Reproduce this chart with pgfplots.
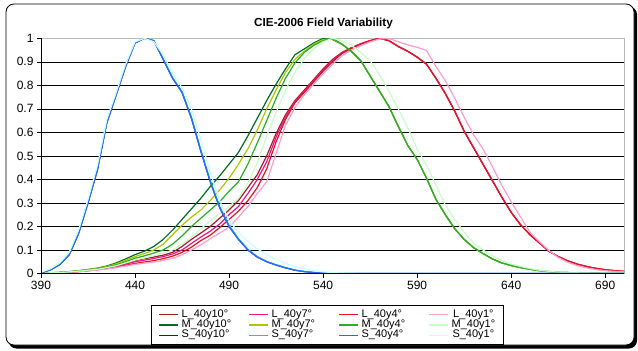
\documentclass[border=0pt]{standalone}
\usepackage{fontspec}
\setmainfont{Liberation Sans}
\usepackage{pgfplots}
\pgfplotsset{compat=1.18}
\usepackage{pgfplotstable}

\definecolor{cL10}{RGB}{160,30,40}
\definecolor{cL7}{RGB}{240,20,130}
\definecolor{cL4}{RGB}{230,20,30}
\definecolor{cL1}{RGB}{255,155,205}
\definecolor{cM10}{RGB}{0,110,40}
\definecolor{cM7}{RGB}{170,200,0}
\definecolor{cM4}{RGB}{40,175,40}
\definecolor{cM1}{RGB}{200,255,200}
\definecolor{cS10}{RGB}{0,40,100}
\definecolor{cS7}{RGB}{0,200,255}
\definecolor{cS4}{RGB}{50,100,255}
\definecolor{cS1}{RGB}{200,255,255}

\pgfplotstableread{
lam L10 L7 L4 L1 M10 M7 M4 M1 S10 S7 S4 S1
390 0.001 0.001 0.001 0.001 0.002 0.002 0.001 0.001 0.003 0.004 0.003 0.005
395 0.002 0.002 0.002 0.002 0.003 0.003 0.003 0.003 0.015 0.017 0.015 0.020
400 0.004 0.004 0.003 0.003 0.005 0.005 0.004 0.004 0.038 0.040 0.038 0.045
405 0.006 0.006 0.005 0.005 0.008 0.008 0.007 0.007 0.080 0.083 0.080 0.090
410 0.009 0.009 0.008 0.008 0.012 0.012 0.011 0.010 0.170 0.175 0.170 0.185
415 0.013 0.012 0.012 0.011 0.017 0.016 0.015 0.014 0.300 0.305 0.300 0.315
420 0.018 0.017 0.016 0.015 0.023 0.022 0.020 0.018 0.440 0.450 0.440 0.460
425 0.024 0.022 0.021 0.019 0.032 0.030 0.027 0.025 0.640 0.645 0.640 0.655
430 0.033 0.030 0.027 0.025 0.045 0.041 0.037 0.033 0.760 0.765 0.760 0.770
435 0.043 0.040 0.035 0.032 0.062 0.056 0.050 0.045 0.880 0.885 0.880 0.890
440 0.055 0.050 0.043 0.039 0.080 0.072 0.065 0.057 0.980 0.982 0.980 0.985
445 0.063 0.057 0.049 0.044 0.095 0.085 0.075 0.066 1.000 1.000 1.000 1.000
450 0.070 0.064 0.055 0.049 0.115 0.100 0.087 0.076 0.990 0.990 0.990 0.985
455 0.078 0.072 0.063 0.056 0.145 0.125 0.100 0.087 0.910 0.912 0.910 0.930
460 0.090 0.083 0.074 0.064 0.185 0.165 0.125 0.100 0.830 0.832 0.830 0.850
465 0.115 0.100 0.090 0.080 0.230 0.205 0.160 0.125 0.770 0.772 0.770 0.790
470 0.145 0.128 0.112 0.100 0.275 0.240 0.200 0.155 0.660 0.665 0.660 0.700
475 0.172 0.155 0.140 0.122 0.320 0.270 0.235 0.190 0.520 0.525 0.520 0.570
480 0.200 0.180 0.163 0.148 0.370 0.310 0.270 0.225 0.390 0.395 0.390 0.430
485 0.235 0.210 0.195 0.172 0.415 0.355 0.305 0.255 0.280 0.285 0.280 0.310
490 0.270 0.250 0.230 0.197 0.465 0.405 0.350 0.285 0.200 0.205 0.200 0.225
495 0.310 0.285 0.265 0.240 0.515 0.465 0.390 0.320 0.145 0.148 0.145 0.175
500 0.365 0.340 0.310 0.285 0.585 0.530 0.465 0.385 0.100 0.103 0.100 0.135
505 0.420 0.400 0.365 0.340 0.660 0.610 0.555 0.470 0.070 0.072 0.070 0.105
510 0.500 0.475 0.445 0.390 0.735 0.700 0.650 0.585 0.050 0.051 0.050 0.080
515 0.595 0.580 0.560 0.510 0.805 0.780 0.745 0.685 0.036 0.037 0.036 0.060
520 0.675 0.665 0.655 0.630 0.870 0.855 0.830 0.780 0.024 0.025 0.024 0.043
525 0.735 0.730 0.725 0.705 0.930 0.910 0.895 0.855 0.014 0.015 0.014 0.030
530 0.780 0.775 0.770 0.760 0.955 0.945 0.940 0.915 0.008 0.009 0.008 0.020
535 0.825 0.820 0.815 0.805 0.980 0.975 0.970 0.955 0.004 0.005 0.004 0.012
540 0.870 0.865 0.860 0.850 1.000 0.995 0.990 0.985 0.002 0.002 0.002 0.007
545 0.910 0.905 0.900 0.890 0.995 0.997 1.000 1.000 0.001 0.001 0.001 0.004
550 0.940 0.937 0.935 0.925 0.975 0.975 0.975 0.990 0.000 0.000 0.000 0.002
555 0.960 0.958 0.957 0.950 0.945 0.945 0.945 0.970 0.000 0.000 0.000 0.001
560 0.977 0.976 0.975 0.968 0.905 0.905 0.905 0.940 0.000 0.000 0.000 0.000
565 0.990 0.990 0.990 0.985 0.840 0.840 0.840 0.905 0.000 0.000 0.000 0.000
570 1.000 1.000 1.000 0.997 0.775 0.775 0.775 0.845 0.000 0.000 0.000 0.000
575 0.990 0.990 0.990 1.000 0.710 0.710 0.710 0.775 0.000 0.000 0.000 0.000
580 0.965 0.965 0.965 0.985 0.625 0.625 0.625 0.700 0.000 0.000 0.000 0.000
585 0.945 0.945 0.945 0.972 0.545 0.545 0.545 0.620 0.000 0.000 0.000 0.000
590 0.920 0.920 0.920 0.962 0.485 0.485 0.485 0.530 0.000 0.000 0.000 0.000
595 0.890 0.890 0.890 0.948 0.405 0.405 0.405 0.460 0.000 0.000 0.000 0.000
600 0.830 0.830 0.830 0.880 0.315 0.315 0.315 0.375 0.000 0.000 0.000 0.000
605 0.765 0.765 0.765 0.820 0.250 0.250 0.250 0.290 0.000 0.000 0.000 0.000
610 0.690 0.690 0.690 0.745 0.190 0.190 0.190 0.230 0.000 0.000 0.000 0.000
615 0.605 0.605 0.605 0.665 0.145 0.145 0.145 0.175 0.000 0.000 0.000 0.000
620 0.535 0.535 0.535 0.590 0.110 0.110 0.110 0.130 0.000 0.000 0.000 0.000
625 0.465 0.465 0.465 0.530 0.085 0.085 0.085 0.100 0.000 0.000 0.000 0.000
630 0.395 0.395 0.395 0.455 0.062 0.062 0.062 0.075 0.000 0.000 0.000 0.000
635 0.325 0.325 0.325 0.375 0.045 0.045 0.045 0.055 0.000 0.000 0.000 0.000
640 0.260 0.260 0.260 0.305 0.034 0.034 0.034 0.040 0.000 0.000 0.000 0.000
645 0.207 0.207 0.207 0.240 0.025 0.025 0.025 0.030 0.000 0.000 0.000 0.000
650 0.165 0.165 0.165 0.175 0.018 0.018 0.018 0.021 0.000 0.000 0.000 0.000
655 0.130 0.130 0.130 0.135 0.012 0.012 0.012 0.014 0.000 0.000 0.000 0.000
660 0.095 0.095 0.095 0.098 0.008 0.008 0.008 0.009 0.000 0.000 0.000 0.000
665 0.072 0.072 0.072 0.068 0.005 0.005 0.005 0.006 0.000 0.000 0.000 0.000
670 0.054 0.054 0.054 0.048 0.004 0.004 0.004 0.004 0.000 0.000 0.000 0.000
675 0.040 0.040 0.040 0.034 0.002 0.002 0.002 0.003 0.000 0.000 0.000 0.000
680 0.030 0.030 0.030 0.024 0.001 0.001 0.001 0.002 0.000 0.000 0.000 0.000
685 0.022 0.022 0.022 0.017 0.001 0.001 0.001 0.001 0.000 0.000 0.000 0.000
690 0.016 0.016 0.016 0.012 0.000 0.000 0.000 0.000 0.000 0.000 0.000 0.000
695 0.012 0.012 0.012 0.009 0.000 0.000 0.000 0.000 0.000 0.000 0.000 0.000
700 0.009 0.009 0.009 0.007 0.000 0.000 0.000 0.000 0.000 0.000 0.000 0.000
}\cie

\begin{document}
\begin{tikzpicture}[x=1bp,y=1bp]
\useasboundingbox (0,0) rectangle (638,350);
\fill[black, rounded corners=8bp] (8.5,1.5) rectangle (637,343.5);
\draw[fill=white, rounded corners=8bp, line width=0.8bp] (6,5) rectangle (634,346);
\node[anchor=base, font=\bfseries\fontsize{11.7bp}{13bp}\selectfont] at (323.5,324) {CIE-2006 Field Variability};
\begin{axis}[
  at={(41bp,76.5bp)}, anchor=south west,
  scale only axis, width=583bp, height=235.2bp,
  xmin=390, xmax=700, ymin=0, ymax=1,
  xtick={390,440,490,540,590,640,690},
  ytick={0,0.1,0.2,0.3,0.4,0.5,0.6,0.7,0.8,0.9,1},
  yticklabels={0,0.1,0.2,0.3,0.4,0.5,0.6,0.7,0.8,0.9,1},
  /pgf/number format/assume math mode=true,
  ticklabel style={font=\fontsize{12bp}{14bp}\selectfont},
  xtick pos=left, ytick pos=left,
  tick align=outside, major tick length=4bp,
  tick style={black, line width=0.6bp},
  axis line style={draw=gray!55, line width=1bp},
  ymajorgrids, grid style={black, line width=0.6bp},
  after end axis/.code={\draw[black, line width=0.8bp] (rel axis cs:0,1) -- (rel axis cs:0,0) -- (rel axis cs:1,0);},
  legend columns=4,
  legend image code/.code={\draw[#1, line width=1.5bp] (0bp,0bp) -- (19bp,0bp);},
  legend style={at={(0.1887,-0.1339)}, anchor=north west, draw=black, line width=0.6bp,
    inner xsep=7bp, inner ysep=4bp,
    font=\fontsize{11bp}{12bp}\selectfont,
    nodes={inner sep=0.8bp, text height=7bp, text depth=1.8bp},
    column sep=0bp, row sep=0bp,
    /tikz/every odd column/.append style={column sep=2bp},
    /tikz/every even column/.append style={column sep=15.9bp}},
  every axis plot/.append style={line width=1.2bp},
]
\addplot[cL10] table[x=lam,y=L10]{\cie}; \addlegendentry{\makebox[50bp][l]{L\_40y10°}}
\addplot[cL7] table[x=lam,y=L7]{\cie}; \addlegendentry{\makebox[50bp][l]{L\_40y7°}}
\addplot[cL4] table[x=lam,y=L4]{\cie}; \addlegendentry{\makebox[50bp][l]{L\_40y4°}}
\addplot[cL1] table[x=lam,y=L1]{\cie}; \addlegendentry{L\_40y1°}
\addplot[cM10] table[x=lam,y=M10]{\cie}; \addlegendentry{\makebox[50bp][l]{M\_40y10°}}
\addplot[cM7] table[x=lam,y=M7]{\cie}; \addlegendentry{\makebox[50bp][l]{M\_40y7°}}
\addplot[cM4] table[x=lam,y=M4]{\cie}; \addlegendentry{\makebox[50bp][l]{M\_40y4°}}
\addplot[cM1] table[x=lam,y=M1]{\cie}; \addlegendentry{M\_40y1°}
\addplot[cS10] table[x=lam,y=S10]{\cie}; \addlegendentry{\makebox[50bp][l]{S\_40y10°}}
\addplot[cS7] table[x=lam,y=S7]{\cie}; \addlegendentry{\makebox[50bp][l]{S\_40y7°}}
\addplot[cS4] table[x=lam,y=S4]{\cie}; \addlegendentry{\makebox[50bp][l]{S\_40y4°}}
\addplot[cS1] table[x=lam,y=S1]{\cie}; \addlegendentry{S\_40y1°}
\end{axis}
\end{tikzpicture}
\end{document}
